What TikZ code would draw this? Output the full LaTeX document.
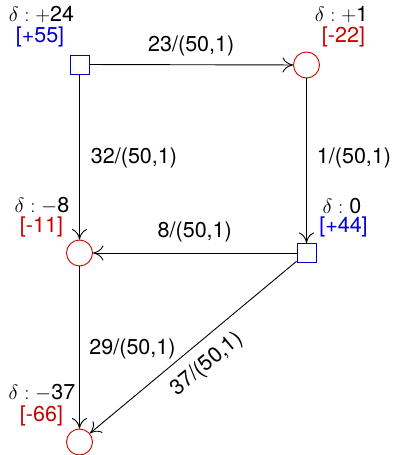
\documentclass[tikz,border=0pt]{standalone}
\usepackage{fontspec}
\setmainfont{TeX Gyre Heros}
\usetikzlibrary{arrows.meta}
\definecolor{nblue}{RGB}{0,0,205}
\definecolor{nred}{RGB}{204,0,0}
\begin{document}
\begin{tikzpicture}[x=1pt,y=-1pt,
  font=\fontsize{21.5}{25}\selectfont,
  sq/.style={rectangle, draw=nblue, line width=0.9pt, minimum size=19pt, inner sep=0pt},
  cir/.style={circle, draw=nred, line width=0.9pt, minimum size=26pt, inner sep=0pt},
  edge/.style={draw=black, line width=0.9pt, -{Computer Modern Rightarrow[length=10.5pt,width=15pt]}},
  dl/.style={text=black, inner sep=0pt},
  bl/.style={text=nblue, inner sep=0pt},
  rl/.style={text=nred, inner sep=0pt},
  el/.style={text=black, inner sep=0pt}]
\useasboundingbox (0,0) rectangle (392,455);
% vertices
\node[sq]  (A) at (79.5,64.5) {};
\node[cir] (B) at (306.5,65) {};
\node[cir] (C) at (79.5,253) {};
\node[sq]  (D) at (306.5,253) {};
\node[cir] (E) at (79.5,442) {};
% vertex labels
\node[dl] (Ad) at (41.5,15) {$\delta:+$24};
\node[bl] (Ab) at (40,37) {[+55]};
\node[dl] (Bd) at (341.5,15) {$\delta:+$1};
\node[rl] (Bb) at (343.5,37) {[-22]};
\node[dl] (Cd) at (42,206) {$\delta:-$8};
\node[rl] (Cb) at (41.5,227) {[-11]};
\node[dl] (Dd) at (342,206) {$\delta:$ 0};
\node[bl] (Db) at (343.5,227) {[+44]};
\node[dl] (Ed) at (42,393) {$\delta:-$37};
\node[rl] (Eb) at (41.5,416) {[-66]};
% edges
\draw[edge] (A) -- node[el, pos=.5, yshift=19pt] {23/(50,1)} (B);
\draw[edge] (A) -- node[el, pos=.5, xshift=54.5pt, yshift=-1pt] {32/(50,1)} (C);
\draw[edge] (B) -- node[el, pos=.5, xshift=47.5pt, yshift=2.7pt] {1/(50,1)} (D);
\draw[edge] (D) -- node[el, pos=.5, yshift=21pt] {8/(50,1)} (C);
\draw[edge] (C) -- node[el, pos=.5, xshift=53pt, yshift=-1.5pt] {29/(50,1)} (E);
\draw[edge] (D) -- node[el, pos=.5, xshift=13.75pt, yshift=-17pt, rotate=39.8] {37/(50,1)} (E);
\end{tikzpicture}
\end{document}
